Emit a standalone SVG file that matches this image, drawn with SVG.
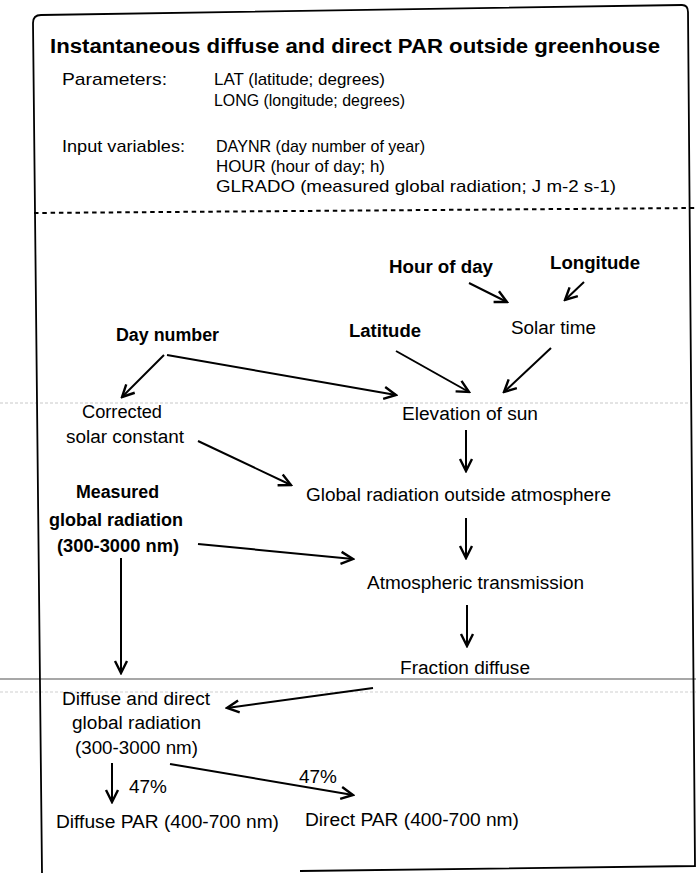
<svg xmlns="http://www.w3.org/2000/svg" width="696" height="873" viewBox="0 0 696 873">
  <defs>
    <style>
      text { font-family: "Liberation Sans", Arial, sans-serif; fill: #000; }
      .h { font-size: 17px; }
      .t { font-size: 18px; }
      .b { font-size: 18px; font-weight: bold; }
      .title { font-size: 19.5px; font-weight: bold; }
      .edge { fill: none; stroke: #000; stroke-width: 2; }
      .frame { fill: none; stroke: #000; stroke-width: 1.8; }
    </style>
    <marker id="arrow" viewBox="0 0 16 16" refX="14" refY="8" markerWidth="16" markerHeight="16" markerUnits="userSpaceOnUse" orient="auto">
      <path d="M2,2 L14,8 L2,14" fill="none" stroke="#000" stroke-width="2.4" stroke-linejoin="miter"/>
    </marker>
  </defs>

  <rect width="696" height="873" fill="#fff"/>

  <!-- faint ruling lines across the sheet -->
  <g id="rulings" fill="none">
    <line x1="0" y1="403" x2="690" y2="403" stroke="#c8c8c8" stroke-width="1" stroke-dasharray="3 2"/>
    <line x1="0" y1="679" x2="696" y2="679" stroke="#8a8a8a" stroke-width="1.6"/>
    <line x1="0" y1="692" x2="696" y2="692" stroke="#cfcfcf" stroke-width="1" stroke-dasharray="3 2"/>
  </g>

  <!-- outer frame and separator -->
  <g id="frame">
    <path class="frame" d="M42,873 L33,23 Q33,15 41,15 L682,5 Q688,5 688,12 L695,866 L300,871"/>
    <line x1="34" y1="213" x2="696" y2="208" stroke="#000" stroke-width="2" stroke-dasharray="4.5 3.8"/>
  </g>

  <!-- header -->
  <g id="header">
    <text class="title" x="50" y="53" textLength="610" lengthAdjust="spacingAndGlyphs">Instantaneous diffuse and direct PAR outside greenhouse</text>
    <text class="h" x="62" y="85" textLength="105" lengthAdjust="spacingAndGlyphs">Parameters:</text>
    <text class="h" x="214" y="85" textLength="171" lengthAdjust="spacingAndGlyphs">LAT (latitude; degrees)</text>
    <text class="h" x="214" y="106" textLength="191" lengthAdjust="spacingAndGlyphs">LONG (longitude; degrees)</text>
    <text class="h" x="62" y="152" textLength="123" lengthAdjust="spacingAndGlyphs">Input variables:</text>
    <text class="h" x="216" y="152" textLength="209" lengthAdjust="spacingAndGlyphs">DAYNR (day number of year)</text>
    <text class="h" x="216" y="172" textLength="169" lengthAdjust="spacingAndGlyphs">HOUR (hour of day; h)</text>
    <text class="h" x="216" y="192" textLength="400" lengthAdjust="spacingAndGlyphs">GLRADO (measured global radiation; J m-2 s-1)</text>
  </g>

  <!-- nodes -->
  <g id="hour-of-day"><text class="b" x="389" y="273" textLength="104" lengthAdjust="spacingAndGlyphs">Hour of day</text></g>
  <g id="longitude"><text class="b" x="550" y="269" textLength="90" lengthAdjust="spacingAndGlyphs">Longitude</text></g>
  <g id="solar-time"><text class="t" x="511" y="334" textLength="85" lengthAdjust="spacingAndGlyphs">Solar time</text></g>
  <g id="latitude"><text class="b" x="349" y="337" textLength="72" lengthAdjust="spacingAndGlyphs">Latitude</text></g>
  <g id="day-number"><text class="b" x="116" y="341" textLength="103" lengthAdjust="spacingAndGlyphs">Day number</text></g>
  <g id="corrected-solar-constant">
    <text class="t" x="82" y="418" textLength="80" lengthAdjust="spacingAndGlyphs">Corrected</text>
    <text class="t" x="66" y="443" textLength="118" lengthAdjust="spacingAndGlyphs">solar constant</text>
  </g>
  <g id="elevation-of-sun"><text class="t" x="402" y="420" textLength="136" lengthAdjust="spacingAndGlyphs">Elevation of sun</text></g>
  <g id="global-radiation-outside"><text class="t" x="306" y="501" textLength="305" lengthAdjust="spacingAndGlyphs">Global radiation outside atmosphere</text></g>
  <g id="measured-global-radiation">
    <text class="b" x="76" y="498" textLength="83" lengthAdjust="spacingAndGlyphs">Measured</text>
    <text class="b" x="49" y="526" textLength="134" lengthAdjust="spacingAndGlyphs">global radiation</text>
    <text class="b" x="57" y="552" textLength="122" lengthAdjust="spacingAndGlyphs">(300-3000 nm)</text>
  </g>
  <g id="atmospheric-transmission"><text class="t" x="367" y="589" textLength="217" lengthAdjust="spacingAndGlyphs">Atmospheric transmission</text></g>
  <g id="fraction-diffuse"><text class="t" x="400" y="674" textLength="130" lengthAdjust="spacingAndGlyphs">Fraction diffuse</text></g>
  <g id="diffuse-direct-global">
    <text class="t" x="62" y="705" textLength="148" lengthAdjust="spacingAndGlyphs">Diffuse and direct</text>
    <text class="t" x="72" y="729" textLength="129" lengthAdjust="spacingAndGlyphs">global radiation</text>
    <text class="t" x="75" y="754" textLength="123" lengthAdjust="spacingAndGlyphs">(300-3000 nm)</text>
  </g>
  <g id="diffuse-par"><text class="t" x="56" y="828" textLength="223" lengthAdjust="spacingAndGlyphs">Diffuse PAR (400-700 nm)</text></g>
  <g id="direct-par"><text class="t" x="305" y="826" textLength="214" lengthAdjust="spacingAndGlyphs">Direct PAR (400-700 nm)</text></g>

  <!-- connectors -->
  <g id="connectors" class="edge">
    <line x1="469" y1="283" x2="507" y2="302" marker-end="url(#arrow)"/>
    <line x1="584" y1="282" x2="565" y2="300" marker-end="url(#arrow)"/>
    <line x1="164" y1="355" x2="122" y2="397" marker-end="url(#arrow)"/>
    <line x1="167" y1="355" x2="396" y2="395" marker-end="url(#arrow)"/>
    <line x1="396" y1="351" x2="469" y2="392" marker-end="url(#arrow)"/>
    <line x1="551" y1="348" x2="504" y2="392" marker-end="url(#arrow)"/>
    <line x1="466" y1="430" x2="466" y2="471" marker-end="url(#arrow)"/>
    <line x1="198" y1="441" x2="291" y2="485" marker-end="url(#arrow)"/>
    <line x1="466" y1="518" x2="466" y2="558" marker-end="url(#arrow)"/>
    <line x1="198" y1="544" x2="353" y2="559" marker-end="url(#arrow)"/>
    <line x1="467" y1="605" x2="467" y2="646" marker-end="url(#arrow)"/>
    <line x1="121" y1="558" x2="121" y2="673" marker-end="url(#arrow)"/>
    <line x1="373" y1="688" x2="227" y2="708" marker-end="url(#arrow)"/>
    <line x1="112" y1="763" x2="112" y2="802" marker-end="url(#arrow)"/>
    <line x1="170" y1="764" x2="353" y2="795" marker-end="url(#arrow)"/>
  </g>
  <g id="edge-labels">
    <text class="t" x="129" y="793" textLength="38" lengthAdjust="spacingAndGlyphs">47%</text>
    <text class="t" x="299" y="783" textLength="38" lengthAdjust="spacingAndGlyphs">47%</text>
  </g>
</svg>
